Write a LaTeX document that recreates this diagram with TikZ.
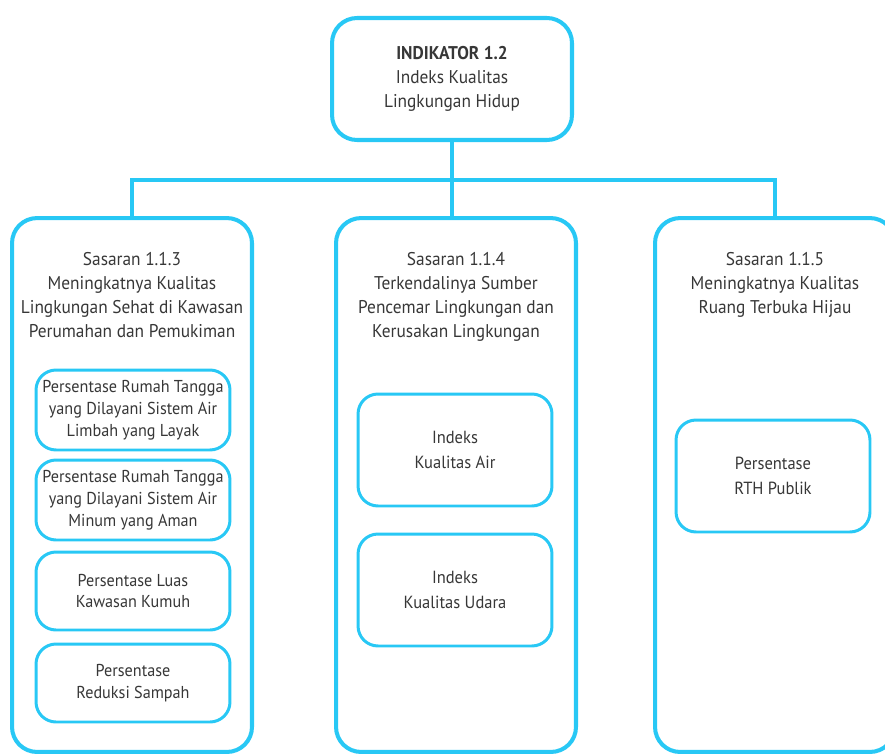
\documentclass[tikz,border=0pt]{standalone}
\usepackage{fontspec}
\setmainfont{PT Sans}[FakeStretch=0.94]
\usetikzlibrary{positioning}
\definecolor{skyline}{RGB}{40,200,245}
\definecolor{inktext}{RGB}{55,55,55}

\begin{document}
\begin{tikzpicture}[x=0.02cm,y=-0.02cm,
bigbox/.style={rectangle, rounded corners=0.5cm, draw=skyline, line width=2.3pt, minimum width=4.8cm, minimum height=10.68cm},
topbox/.style={rectangle, rounded corners=0.5cm, draw=skyline, line width=2.3pt, minimum width=4.8cm, minimum height=2.44cm, align=center, text=inktext, font=\fontsize{10.5}{13.6}\selectfont},
subbox/.style={rectangle, rounded corners=0.4cm, draw=skyline, line width=1.7pt, fill=white, minimum width=3.88cm, inner xsep=2pt, align=center, text=inktext, font=\fontsize{9.8}{12.5}\selectfont},
title/.style={align=center, text=inktext, font=\fontsize{10.5}{13.6}\selectfont, anchor=north},
link/.style={draw=skyline, line width=2.3pt}
]
\useasboundingbox (0,0) rectangle (885,754);
\clip (0,0) rectangle (885,754);

%Nodes
\node[topbox]        (ind)      at (452,79)      {\textbf{INDIKATOR 1.2}\\Indeks Kualitas\\Lingkungan Hidup};
\node[bigbox]        (s113)     at (132,485)     {};
\node[bigbox]        (s114)     at (456,485)     {};
\node[bigbox]        (s115)     at (775,485)     {};
%Sasaran titles
\node[title]         (t113)     at (132,246)     {Sasaran 1.1.3\\Meningkatnya Kualitas\\Lingkungan Sehat di Kawasan\\Perumahan dan Pemukiman};
\node[title]         (t114)     at (456,246)     {Sasaran 1.1.4\\Terkendalinya Sumber\\Pencemar Lingkungan dan\\Kerusakan Lingkungan};
\node[title]         (t115)     at (775,246)     {Sasaran 1.1.5\\Meningkatnya Kualitas\\Ruang Terbuka Hijau};
%Indikator boxes
\node[subbox, minimum height=1.6cm]   (limbah)   at (133,410)     {Persentase Rumah Tangga\\yang Dilayani Sistem Air\\Limbah yang Layak};
\node[subbox, minimum height=1.6cm]   (minum)    at (133,500)     {Persentase Rumah Tangga\\yang Dilayani Sistem Air\\Minum yang Aman};
\node[subbox, minimum height=1.56cm]  (kumuh)    at (133,591)     {Persentase Luas\\Kawasan Kumuh};
\node[subbox, minimum height=1.56cm]  (sampah)   at (133,683)     {Persentase\\Reduksi Sampah};
\node[subbox, minimum height=2.24cm, font=\fontsize{10}{14}\selectfont]  (air)      at (455,450)     {Indeks\\Kualitas Air};
\node[subbox, minimum height=2.24cm, font=\fontsize{10}{14}\selectfont]  (udara)    at (455,590)     {Indeks\\Kualitas Udara};
\node[subbox, minimum height=2.24cm, font=\fontsize{10}{14}\selectfont]  (rth)      at (773,476)     {Persentase\\RTH Publik};

%Edges
\coordinate (bar) at (452,180);
\draw[link] (ind.south) -- (bar);
\draw[link] (s113.north) |- (bar) -| (s115.north);
\draw[link] (bar) -- (bar |- s114.north);

\end{tikzpicture}
\end{document}
